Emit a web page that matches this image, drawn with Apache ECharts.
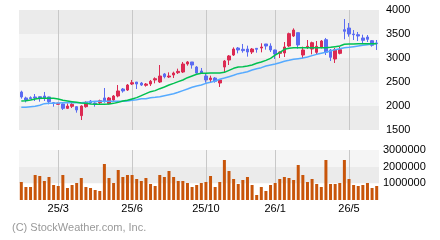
<!DOCTYPE html>
<html>
<head>
<meta charset="utf-8">
<script src="https://cdn.jsdelivr.net/npm/echarts@6.0.0/dist/echarts.min.js"></script>
<style>
  html, body { margin: 0; padding: 0; background: #fff; }
  #main { width: 440px; height: 240px; }
</style>
</head>
<body>
<div id="main"></div>
<script>
// weekly candles: [open, close, low, high]
var candles = [
  [2292, 2188, 2153, 2319], [2167, 2125, 2076, 2194], [2174, 2153, 2146, 2201], [2188, 2167, 2104, 2250],
  [2194, 2153, 2090, 2201], [2208, 2167, 2104, 2292], [2188, 2090, 2035, 2194], [2069, 2055, 1986, 2083],
  [2035, 2055, 2028, 2069], [2042, 1951, 1917, 2055], [1951, 1999, 1937, 2055], [1993, 2035, 1958, 2090],
  [1986, 1917, 1861, 1999], [1799, 2000, 1708, 2014], [1986, 2076, 1965, 2097], [2104, 2062, 2048, 2125],
  [2062, 2042, 1986, 2076], [2069, 2111, 2028, 2132], [2167, 2090, 2069, 2375], [2049, 2167, 2035, 2188],
  [2125, 2208, 2097, 2229], [2208, 2313, 2181, 2437], [2354, 2313, 2278, 2375], [2333, 2437, 2313, 2458],
  [2458, 2486, 2437, 2542], [2500, 2458, 2354, 2500], [2479, 2437, 2417, 2500], [2431, 2458, 2403, 2479],
  [2458, 2514, 2417, 2542], [2542, 2569, 2472, 2597], [2500, 2625, 2479, 2854], [2667, 2611, 2576, 2687],
  [2604, 2625, 2583, 2701], [2646, 2687, 2583, 2715], [2694, 2722, 2667, 2778], [2708, 2875, 2687, 2917],
  [2875, 2917, 2840, 2937], [2917, 2854, 2778, 2917], [2812, 2687, 2674, 2833], [2729, 2687, 2667, 2792],
  [2625, 2542, 2486, 2667], [2549, 2583, 2500, 2632], [2583, 2514, 2486, 2604], [2479, 2542, 2396, 2556],
  [2812, 2937, 2708, 2958], [2958, 3042, 2854, 3062], [3062, 3187, 3042, 3222], [3208, 3167, 3097, 3229],
  [3181, 3153, 3111, 3292], [3187, 3125, 3028, 3257], [3125, 3187, 3083, 3208], [3201, 3181, 3111, 3208],
  [3208, 3229, 3118, 3306], [3292, 3250, 3174, 3292], [3250, 3167, 3125, 3306], [3167, 3083, 2979, 3174],
  [3097, 3125, 3000, 3139], [3104, 3229, 3021, 3333], [3250, 3507, 3229, 3528], [3458, 3583, 3437, 3618],
  [3528, 3271, 3194, 3528], [3062, 3167, 2993, 3236], [3222, 3243, 3187, 3375], [3187, 3319, 3076, 3340],
  [3118, 3243, 3083, 3354], [3229, 3354, 3201, 3375], [3382, 3118, 3062, 3417], [3167, 3014, 2937, 3187],
  [2979, 3174, 2896, 3208], [3097, 3174, 3076, 3236], [3590, 3556, 3389, 3812], [3625, 3500, 3444, 3729],
  [3500, 3486, 3375, 3583], [3486, 3458, 3354, 3542], [3417, 3368, 3306, 3486], [3437, 3389, 3333, 3479],
  [3361, 3264, 3236, 3375], [3313, 3299, 3167, 3375]
];

// short moving average (green)
var maShort = [
  2104, 2111, 2125, 2146, 2160, 2160, 2160, 2160, 2146, 2118, 2104, 2090, 2076, 2062, 2055, 2042,
  2035, 2035, 2035, 2042, 2055, 2076, 2104, 2118, 2146, 2174, 2215, 2257, 2299, 2320, 2361, 2396,
  2438, 2472, 2507, 2542, 2590, 2625, 2660, 2681, 2681, 2688, 2688, 2688, 2701, 2743, 2785, 2812,
  2820, 2833, 2854, 2889, 2917, 2951, 2993, 3062, 3111, 3181, 3201, 3215, 3215, 3215, 3215, 3215,
  3215, 3215, 3215, 3222, 3236, 3250, 3285, 3292, 3292, 3299, 3299, 3299, 3299, 3299
];

// long moving average (light blue)
var maLong = [
  1972, 1972, 1986, 1993, 2014, 2049, 2055, 2055, 2062, 2069, 2069, 2069, 2069, 2069, 2076, 2090,
  2097, 2097, 2097, 2097, 2097, 2097, 2097, 2104, 2118, 2132, 2153, 2153, 2174, 2181, 2194, 2215,
  2236, 2257, 2285, 2320, 2354, 2389, 2417, 2438, 2472, 2493, 2521, 2556, 2583, 2611, 2639, 2674,
  2694, 2715, 2750, 2778, 2799, 2833, 2854, 2875, 2903, 2931, 2951, 2972, 2986, 3000, 3021, 3049,
  3076, 3097, 3118, 3146, 3174, 3194, 3215, 3222, 3236, 3250, 3264, 3278, 3292, 3306
];

var volume = [
  1080000, 780000, 780000, 1500000, 1440000, 1140000, 1380000, 900000, 840000, 1500000, 720000, 900000,
  1020000, 1320000, 780000, 720000, 600000, 540000, 2160000, 1320000, 1020000, 1800000, 1380000, 1500000,
  1500000, 1260000, 1140000, 1320000, 960000, 840000, 1500000, 1380000, 1740000, 1380000, 1140000, 1140000,
  1020000, 780000, 900000, 1020000, 1080000, 1440000, 780000, 1080000, 2400000, 1740000, 1260000, 960000,
  1200000, 1380000, 900000, 300000, 780000, 540000, 900000, 1020000, 1260000, 1380000, 1320000, 1200000,
  2100000, 1500000, 1080000, 1260000, 960000, 780000, 2400000, 960000, 960000, 1020000, 2400000, 1260000,
  900000, 840000, 900000, 1020000, 720000, 840000
];

var tickIndex = [8, 24, 40, 55, 71];
var tickLabels = ['25/3', '25/6', '25/10', '26/1', '26/5'];
var categories = candles.map(function (c, i) { return String(i); });

var UP = '#dc2a52';
var DOWN = '#5b6cf2';
var FONT = '"Liberation Sans", Arial, sans-serif';

function isTick(i) { return tickIndex.indexOf(i) >= 0; }
function plain(v) { return String(v); }

var myChart = echarts.init(document.getElementById('main'), null, { renderer: 'canvas' });
myChart.setOption({
  animation: false,
  textStyle: { fontFamily: FONT },
  grid: [
    { left: 19, top: 10, width: 360, height: 120 },
    { left: 19, top: 150, width: 360, height: 50 }
  ],
  xAxis: [
    {
      type: 'category', gridIndex: 0, data: categories, boundaryGap: true,
      axisLine: { show: false }, axisTick: { show: false }, axisLabel: { show: false },
      splitLine: { show: true, interval: function (i) { return isTick(i); }, alignWithLabel: true,
        lineStyle: { color: '#c8c8c8', width: 1 } }
    },
    {
      type: 'category', gridIndex: 1, data: categories, boundaryGap: true,
      axisLine: { show: false }, axisTick: { show: false },
      axisLabel: {
        interval: function (i) { return isTick(i); },
        formatter: function (v) { return tickLabels[tickIndex.indexOf(Number(v))]; },
        color: '#000', fontSize: 11, fontFamily: FONT, margin: 3
      },
      splitLine: { show: true, interval: function (i) { return isTick(i); }, alignWithLabel: true,
        lineStyle: { color: '#c8c8c8', width: 1 } }
    }
  ],
  yAxis: [
    {
      type: 'value', gridIndex: 0, position: 'right', min: 1500, max: 4000, interval: 500,
      axisLine: { show: false }, axisTick: { show: false }, splitLine: { show: false },
      splitArea: { show: true, areaStyle: { color: ['#ebebeb', '#f5f5f5'] } },
      axisLabel: { color: '#000', fontSize: 11, fontFamily: FONT, margin: 7, formatter: plain }
    },
    {
      type: 'value', gridIndex: 1, position: 'right', min: 0, max: 3000000, interval: 1000000,
      axisLine: { show: false }, axisTick: { show: false }, splitLine: { show: false },
      splitArea: { show: true, areaStyle: { color: ['#ffffff', '#ebebeb', '#f5f5f5'] } },
      axisLabel: { color: '#000', fontSize: 11, fontFamily: FONT, margin: 4, showMinLabel: false, formatter: plain }
    }
  ],
  graphic: [{
    type: 'text', left: 12, top: 222,
    style: { text: '(C) StockWeather.com, Inc.', fill: '#999999', font: '11px ' + FONT }
  }],
  series: [
    {
      name: 'maLong', type: 'line', xAxisIndex: 0, yAxisIndex: 0, data: maLong,
      symbol: 'none', lineStyle: { color: '#55aaff', width: 1.5 }
    },
    {
      name: 'maShort', type: 'line', xAxisIndex: 0, yAxisIndex: 0, data: maShort,
      symbol: 'none', lineStyle: { color: '#00c050', width: 1.5 }
    },
    {
      name: 'price', type: 'candlestick', xAxisIndex: 0, yAxisIndex: 0, data: candles,
      barWidth: 3,
      itemStyle: { color: UP, color0: DOWN, borderColor: UP, borderColor0: DOWN, borderWidth: 1 }
    },
    {
      name: 'volume', type: 'bar', xAxisIndex: 1, yAxisIndex: 1, data: volume,
      barWidth: 3, itemStyle: { color: '#c8550a' }
    }
  ]
});
</script>
</body>
</html>
